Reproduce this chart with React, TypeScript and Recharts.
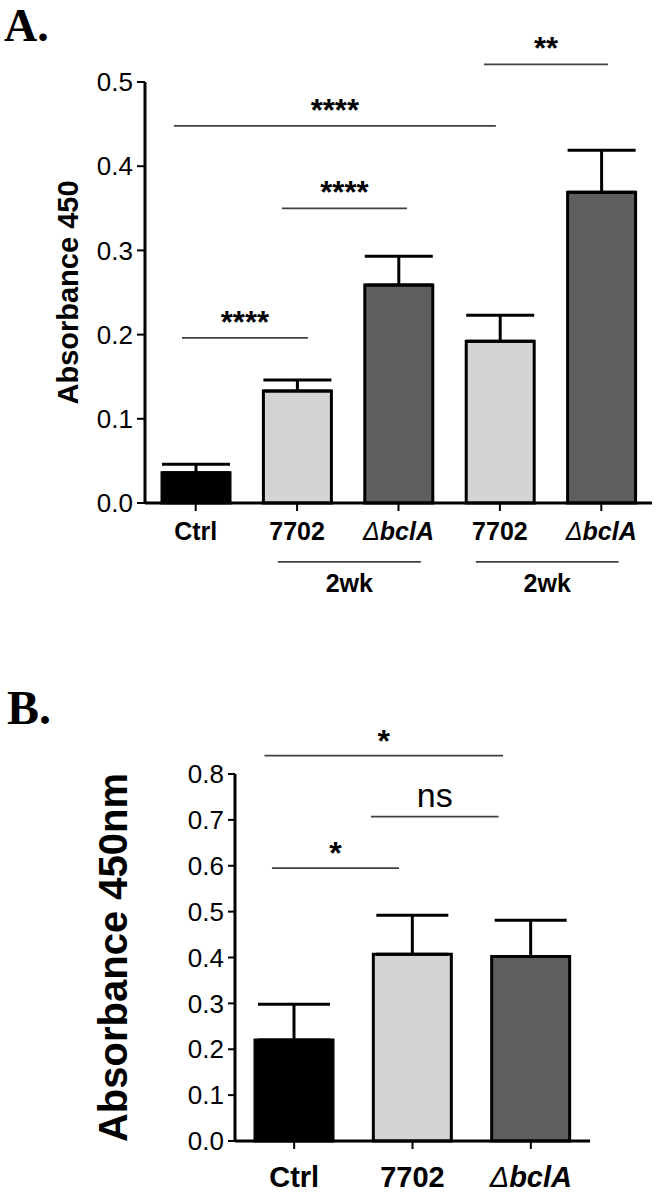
import React from 'react';
import { BarChart, Bar, XAxis, YAxis, Cell, ErrorBar, ReferenceLine } from 'recharts';

// ---------- Data ----------
const categoriesA = ['Ctrl', '7702', 'ΔbclA', '7702', 'ΔbclA'];
const valuesA = [0.036, 0.133, 0.259, 0.192, 0.369];
const errorsA = [0.010, 0.013, 0.034, 0.031, 0.050];
const fillsA = ['#000000', '#d4d4d4', '#5e5e5e', '#d4d4d4', '#5e5e5e'];
const ticksA = [0, 0.1, 0.2, 0.3, 0.4, 0.5];

const categoriesB = ['Ctrl', '7702', 'ΔbclA'];
const valuesB = [0.220, 0.407, 0.402];
const errorsB = [0.078, 0.085, 0.079];
const fillsB = ['#000000', '#d4d4d4', '#5e5e5e'];
const ticksB = [0, 0.1, 0.2, 0.3, 0.4, 0.5, 0.6, 0.7, 0.8];

// significance brackets: [xStart, xEnd, y, label]
const sigA: [number, number, number, string][] = [
  [-0.135, 1.106, 0.196, '****'],
  [0.85, 2.083, 0.35, '****'],
  [-0.215, 2.96, 0.448, '****'],
  [2.843, 4.066, 0.521, '**'],
];
// group lines under the axis: [xStart, xEnd, y, label]
const groupA: [number, number, number, string][] = [
  [0.81, 2.22, -0.07, '2wk'],
  [2.763, 4.17, -0.07, '2wk'],
];
const sigB: [number, number, number, string][] = [
  [-0.188, 0.886, 0.595, '*'],
  [0.649, 1.727, 0.707, 'ns'],
  [-0.251, 1.765, 0.84, '*'],
];

const dataA = categoriesA.map((name, i) => ({ x: i, name, value: valuesA[i], err: [0, errorsA[i]] }));
const dataB = categoriesB.map((name, i) => ({ x: i, name, value: valuesB[i], err: [0, errorsB[i]] }));

const FONT = "'Liberation Sans', Arial, Helvetica, sans-serif";
const SERIF = "'Liberation Serif', 'Times New Roman', serif";

function makeXTick(cats: string[], fontSize: number, dy: number) {
  return (props: any) => {
    const { x, y, payload } = props;
    const label = cats[payload.value] ?? '';
    const isDelta = label.startsWith('Δ');
    return (
      <text x={x} y={y} dy={dy} textAnchor="middle" fontFamily={FONT} fontWeight="bold" fontSize={fontSize} fill="#000">
        {isDelta ? (
          <>
            <tspan fontStyle="italic" fontWeight="normal">Δ</tspan>
            <tspan fontStyle="italic">{label.slice(1)}</tspan>
          </>
        ) : (
          label
        )}
      </text>
    );
  };
}

function makeYLabel(text: string, cxOffset: number, fontSize: number) {
  return (props: any) => {
    const vb = props.viewBox || { x: 0, y: 0, width: 0, height: 0 };
    const cx = vb.x + cxOffset;
    const cy = vb.y + vb.height / 2;
    return (
      <text x={cx} y={cy} transform={`rotate(-90 ${cx} ${cy})`} textAnchor="middle" dominantBaseline="central"
        fontFamily={FONT} fontWeight="bold" fontSize={fontSize} fill="#000">
        {text}
      </text>
    );
  };
}

const lineStroke = '#404040';

export default function App() {
  return (
    <div style={{ position: 'absolute', left: 0, top: 0, width: 666, height: 1203, background: '#fff', overflow: 'hidden' }}>
      <div style={{ position: 'absolute', left: 4, top: 3, fontFamily: SERIF, fontWeight: 'bold', fontSize: 46, lineHeight: '46px' }}>A.</div>
      <div style={{ position: 'absolute', left: 7, top: 684, fontFamily: SERIF, fontWeight: 'bold', fontSize: 48, lineHeight: '48px' }}>B.</div>

      <div style={{ position: 'absolute', left: 0, top: 0 }}>
        <BarChart width={666} height={620} data={dataA} margin={{ top: 82, right: 14, left: 0, bottom: 57 }}>
          <XAxis type="number" dataKey="x" domain={[-0.5, 4.5]} ticks={[0, 1, 2, 3, 4]} interval={0}
            height={60} tickSize={8} tickLine={{ stroke: '#000', strokeWidth: 2 }}
            axisLine={{ stroke: '#000', strokeWidth: 3 }}
            tick={makeXTick(categoriesA, 25, 27)} />
          <YAxis type="number" domain={[0, 0.5]} ticks={ticksA} width={145} interval={0}
            tickSize={8} tickMargin={4} tickLine={{ stroke: '#000', strokeWidth: 2 }}
            axisLine={{ stroke: '#000', strokeWidth: 3 }}
            tickFormatter={(v: number) => v.toFixed(1)}
            tick={{ fill: '#000', fontFamily: FONT, fontSize: 26 }}
            label={{ content: makeYLabel('Absorbance 450', 68, 29) } as any} />
          <Bar dataKey="value" barSize={68} stroke="#000" strokeWidth={3} isAnimationActive={false}>
            {dataA.map((d, i) => <Cell key={i} fill={fillsA[i]} />)}
            <ErrorBar dataKey="err" width={34} stroke="#000" strokeWidth={3} direction="y" isAnimationActive={false} />
          </Bar>
          {sigA.map(([x1, x2, y, t], i) => (
            <ReferenceLine key={'s' + i} segment={[{ x: x1, y }, { x: x2, y }]} ifOverflow="visible"
              stroke={lineStroke} strokeWidth={1.8}
              label={{ value: t, position: 'top', offset: 5, fill: '#000', fontSize: 31, fontWeight: 'bold', fontFamily: FONT }} />
          ))}
          {groupA.map(([x1, x2, y, t], i) => (
            <ReferenceLine key={'g' + i} segment={[{ x: x1, y }, { x: x2, y }]} ifOverflow="visible"
              stroke={lineStroke} strokeWidth={1.8}
              label={{ value: t, position: 'bottom', offset: 12, fill: '#000', fontSize: 25, fontWeight: 'bold', fontFamily: FONT }} />
          ))}
        </BarChart>
      </div>

      <div style={{ position: 'absolute', left: 0, top: 620 }}>
        <BarChart width={666} height={583} data={dataB} margin={{ top: 154, right: 76, left: 0, bottom: 12 }}>
          <XAxis type="number" dataKey="x" domain={[-0.5, 2.5]} ticks={[0, 1, 2]} interval={0}
            height={50} tickSize={8} tickLine={{ stroke: '#000', strokeWidth: 2 }}
            axisLine={{ stroke: '#000', strokeWidth: 3 }}
            tick={makeXTick(categoriesB, 29, 36)} />
          <YAxis type="number" domain={[0, 0.8]} ticks={ticksB} width={235} interval={0}
            tickSize={7} tickMargin={4} tickLine={{ stroke: '#000', strokeWidth: 2 }}
            axisLine={{ stroke: '#000', strokeWidth: 3 }}
            tickFormatter={(v: number) => v.toFixed(1)}
            tick={{ fill: '#000', fontFamily: FONT, fontSize: 26 }}
            label={{ content: makeYLabel('Absorbance 450nm', 113, 40) } as any} />
          <Bar dataKey="value" barSize={78} stroke="#000" strokeWidth={3} isAnimationActive={false}>
            {dataB.map((d, i) => <Cell key={i} fill={fillsB[i]} />)}
            <ErrorBar dataKey="err" width={36} stroke="#000" strokeWidth={3} direction="y" isAnimationActive={false} />
          </Bar>
          {sigB.map(([x1, x2, y, t], i) => (
            <ReferenceLine key={'b' + i} segment={[{ x: x1, y }, { x: x2, y }]} ifOverflow="visible"
              stroke={lineStroke} strokeWidth={1.8}
              label={{ value: t, position: 'top', offset: t === 'ns' ? 10 : 4, fill: '#000',
                fontSize: t === 'ns' ? 34 : 32, fontWeight: t === 'ns' ? 'normal' : 'bold', fontFamily: FONT }} />
          ))}
        </BarChart>
      </div>
    </div>
  );
}
